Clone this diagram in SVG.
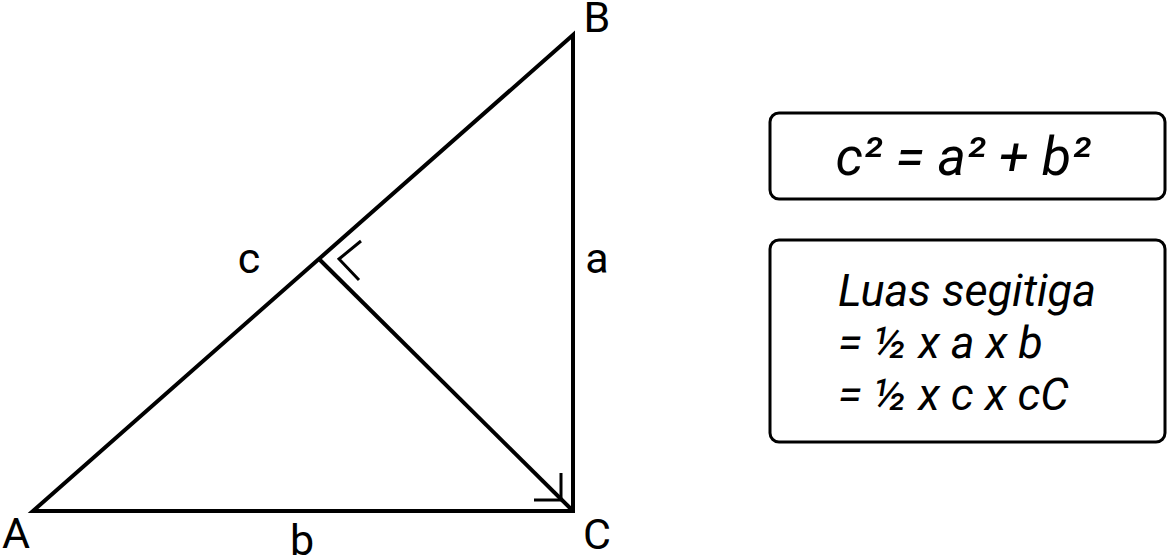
<svg xmlns="http://www.w3.org/2000/svg" width="1168" height="560" viewBox="0 0 1168 560">
<style>
.ln{fill:none;stroke:#000;stroke-width:4;stroke-linejoin:miter}
.mk{fill:none;stroke:#000;stroke-width:3}
.lbl{font-family:Roboto,"Liberation Sans",sans-serif;font-size:43px;fill:#000}
.box{fill:#fff;stroke:#000;stroke-width:3}
.eq{font-family:Roboto,"Liberation Sans",sans-serif;font-style:italic;fill:#000}
</style>
<rect width="1168" height="560" fill="#fff"/>
<g id="connectors">
<polygon class="ln" points="33,511 573,35 573,511"/>
<line class="ln" x1="320" y1="260" x2="573" y2="511"/>
<polyline class="mk" points="361,241 339,259 359,280"/>
<polyline class="mk" points="534,500 561,500 561,473"/>
</g>
<g id="labels">
<text class="lbl" x="597" y="32" text-anchor="middle">B</text>
<text class="lbl" x="16" y="548" text-anchor="middle">A</text>
<text class="lbl" x="597" y="549" text-anchor="middle">C</text>
<text class="lbl" x="302" y="555" text-anchor="middle">b</text>
<text class="lbl" x="597" y="273" text-anchor="middle">a</text>
<text class="lbl" x="249" y="273" text-anchor="middle">c</text>
</g>
<g id="node-equation">
<rect class="box" x="770" y="113" width="395" height="86" rx="9"/>
<text class="eq" x="963" y="175" font-size="54" text-anchor="middle">c² = a² + b²</text>
</g>
<g id="node-area">
<rect class="box" x="770" y="240" width="395" height="202" rx="9"/>
<text class="eq" x="838" y="306" font-size="45">Luas segitiga</text>
<text class="eq" x="838" y="358" font-size="45">= ½ x a x b</text>
<text class="eq" x="838" y="410" font-size="45">= ½ x c x cC</text>
</g>
</svg>
